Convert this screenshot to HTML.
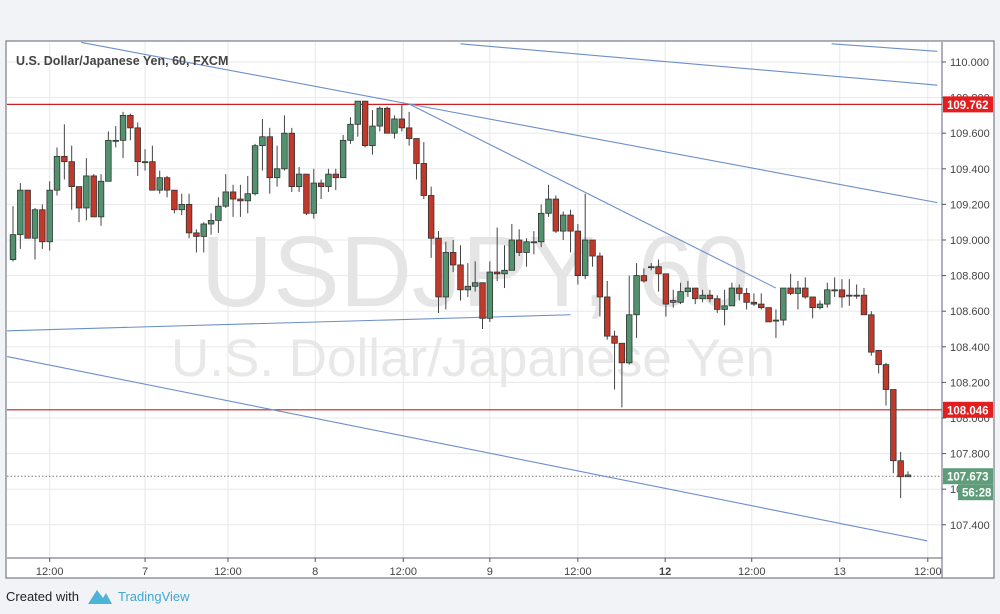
<!DOCTYPE html>
<html><head><meta charset="utf-8"><style>
html,body{margin:0;padding:0;width:1000px;height:614px;overflow:hidden;background:#f1f3f6;font-family:"Liberation Sans",sans-serif}
</style></head><body>
<svg id="c" width="1000" height="614" xmlns="http://www.w3.org/2000/svg"></svg>
<script>
const opens=[108.89,109.03,109.28,109.01,109.17,108.99,109.28,109.47,109.44,109.30,109.18,109.36,109.13,109.33,109.56,109.56,109.70,109.63,109.44,109.44,109.28,109.35,109.28,109.17,109.20,109.04,109.02,109.09,109.11,109.19,109.27,109.23,109.22,109.26,109.53,109.58,109.35,109.40,109.60,109.30,109.37,109.15,109.32,109.30,109.37,109.35,109.56,109.65,109.78,109.53,109.64,109.74,109.60,109.68,109.63,109.57,109.43,109.25,109.01,108.68,108.93,108.86,108.72,108.74,108.76,108.56,108.82,108.81,108.83,109.00,108.93,108.99,108.99,109.15,109.23,109.05,109.14,109.05,108.80,109.00,108.91,108.68,108.46,108.42,108.31,108.58,108.80,108.85,108.85,108.81,108.65,108.65,108.71,108.73,108.67,108.69,108.67,108.61,108.63,108.73,108.70,108.65,108.64,108.62,108.55,108.55,108.73,108.70,108.73,108.68,108.62,108.64,108.72,108.72,108.69,108.69,108.69,108.58,108.38,108.30,108.16,107.76,107.67];
const closes=[109.03,109.28,109.01,109.17,108.99,109.28,109.47,109.44,109.30,109.18,109.36,109.13,109.33,109.56,109.56,109.70,109.63,109.44,109.44,109.28,109.35,109.28,109.17,109.20,109.04,109.02,109.09,109.11,109.19,109.27,109.23,109.22,109.26,109.53,109.58,109.35,109.40,109.60,109.30,109.37,109.15,109.32,109.30,109.37,109.35,109.56,109.65,109.78,109.53,109.64,109.74,109.60,109.68,109.63,109.57,109.43,109.25,109.01,108.68,108.93,108.86,108.72,108.74,108.76,108.56,108.82,108.81,108.83,109.00,108.93,108.99,108.99,109.15,109.23,109.05,109.14,109.05,108.80,109.00,108.91,108.68,108.46,108.42,108.31,108.58,108.80,108.77,108.85,108.81,108.64,108.66,108.71,108.73,108.67,108.69,108.67,108.61,108.63,108.73,108.70,108.65,108.64,108.62,108.54,108.55,108.73,108.70,108.73,108.68,108.62,108.64,108.72,108.72,108.68,108.69,108.69,108.58,108.37,108.30,108.16,107.76,107.67,107.68];
const highs=[109.19,109.32,109.28,109.18,109.20,109.33,109.52,109.65,109.53,109.30,109.46,109.37,109.37,109.61,109.64,109.72,109.71,109.66,109.51,109.53,109.39,109.36,109.28,109.26,109.26,109.06,109.10,109.15,109.24,109.37,109.31,109.31,109.36,109.54,109.68,109.63,109.53,109.70,109.63,109.41,109.37,109.40,109.34,109.40,109.40,109.59,109.69,109.78,109.78,109.73,109.75,109.75,109.70,109.76,109.72,109.57,109.55,109.30,109.05,108.99,109.00,108.97,108.87,108.88,108.76,108.88,109.07,108.97,109.09,109.06,109.01,109.05,109.20,109.31,109.25,109.16,109.17,109.09,109.26,109.00,108.93,108.77,108.49,108.42,108.80,108.87,108.84,108.87,108.89,108.81,108.72,108.76,108.77,108.73,108.72,108.72,108.69,108.72,108.76,108.75,108.73,108.70,108.70,108.62,108.61,108.73,108.81,108.77,108.79,108.68,108.66,108.76,108.79,108.78,108.78,108.75,108.73,108.60,108.38,108.31,108.16,107.81,107.70];
const lows=[108.88,108.95,109.01,108.89,108.95,108.94,109.25,109.34,109.17,109.10,109.11,109.13,109.08,109.33,109.52,109.46,109.56,109.36,109.39,109.28,109.26,109.24,109.15,109.14,109.01,108.93,108.93,109.03,109.04,109.18,109.13,109.13,109.15,109.25,109.39,109.26,109.30,109.39,109.27,109.27,109.14,109.12,109.23,109.27,109.28,109.35,109.54,109.58,109.52,109.48,109.61,109.60,109.57,109.61,109.53,109.34,109.23,108.90,108.59,108.61,108.82,108.66,108.68,108.71,108.50,108.54,108.77,108.73,108.83,108.91,108.85,108.92,108.96,109.13,109.04,109.00,108.93,108.75,108.78,108.85,108.57,108.44,108.16,108.06,108.30,108.45,108.76,108.83,108.71,108.57,108.62,108.64,108.68,108.64,108.65,108.65,108.59,108.52,108.63,108.66,108.61,108.63,108.61,108.54,108.45,108.52,108.69,108.61,108.67,108.56,108.61,108.62,108.68,108.62,108.63,108.67,108.58,108.35,108.25,108.07,107.69,107.55,107.67];
const priceTicks=[107.4,107.6,107.8,108.0,108.2,108.4,108.6,108.8,109.0,109.2,109.4,109.6,109.8,110.0];
const timeTickIdx=[6,19,30.3,42.2,54.2,66,78,89.9,101.7,113.7,125.7];
const timeTickLabels=["12:00","7","12:00","8","12:00","9","12:00","12","12:00","13","12:00"];
const levels=[109.762,108.046];
const lastPrice=107.673;
// trend lines: [idx1, price1, idx2, price2]
const trendLines=[[10.3,110.11,55,109.764],[55,109.764,127,109.21],[55,109.764,105,108.73],[62,110.102,127,109.87],[112.6,110.102,127,110.06],[0.2,108.49,77,108.58],[0.2,108.345,125.6,107.31]];

const S="http://www.w3.org/2000/svg",svg=document.getElementById('c');
const L=7,R=942,T=42,B=558;
const y=p=>62+(110-p)*178;
const x=i=>13+(i-1)*7.336;
function el(t,a,parent){const e=document.createElementNS(S,t);for(const k in a)e.setAttribute(k,a[k]);(parent||svg).appendChild(e);return e;}
let e=el('rect',{x:6,y:41,width:988,height:537,fill:'#fff',stroke:'#5d6570','stroke-width':1});

const grid=el('g',{});
priceTicks.forEach(p=>el('line',{x1:L,x2:R,y1:y(p),y2:y(p),stroke:'#e6e8ec'},grid));
timeTickIdx.forEach(i=>el('line',{x1:x(i),x2:x(i),y1:T,y2:B,stroke:'#e6e8ec'},grid));
e=el('text',{x:475,y:306,'font-size':100,fill:'#e5e5e5','text-anchor':'middle'});e.textContent='USDJPY, 60';

e=el('text',{x:473,y:376,'font-size':53,fill:'#e8e8e8','text-anchor':'middle'});e.textContent='U.S. Dollar/Japanese Yen';

levels.forEach(p=>{const l=el('line',{x1:L,x2:R,y1:y(p),y2:y(p),stroke:'#d11d1d','stroke-width':1.2});
});
e=el('line',{x1:L,x2:R,y1:y(lastPrice),y2:y(lastPrice),stroke:'#777','stroke-dasharray':'1.5,2'});

trendLines.forEach(t=>{const l=el('line',{x1:x(t[0]),y1:y(t[1]),x2:x(t[2]),y2:y(t[3]),stroke:'#6b8fc9','stroke-width':1.1});
});
const cg=el('g',{});
opens.forEach((o,k)=>{const c=closes[k],i=k+1,cx=x(i);const up=c>=o;
const g=el('g',{},cg);


el('line',{x1:cx,x2:cx,y1:y(highs[k]),y2:y(lows[k]),stroke:'#444','stroke-width':1},g);
const top=y(Math.max(o,c)),h=Math.max(1,Math.abs(y(o)-y(c)));
el('rect',{x:cx-2.8,y:top,width:5.6,height:h,fill:up?'#53926e':'#c0392b',stroke:'#333','stroke-width':0.8},g);});
e=el('line',{x1:R,x2:R,y1:T,y2:B+20,stroke:'#5d6570'});
e=el('line',{x1:L,x2:R,y1:B,y2:B,stroke:'#5d6570'});
priceTicks.forEach(p=>{if(p<107.35)return;el('line',{x1:R,x2:R+4,y1:y(p),y2:y(p),stroke:'#555'});
const t=el('text',{x:950,y:y(p)+4,'font-size':11,fill:'#444'});t.textContent=p.toFixed(3);
});
timeTickIdx.forEach((i,k)=>{el('line',{x1:x(i),x2:x(i),y1:B,y2:B+4,stroke:'#555'});
const t=el('text',{x:x(i),y:575,'font-size':11,fill:'#444','text-anchor':'middle','font-weight':timeTickLabels[k]==='12'?'bold':'normal'});t.textContent=timeTickLabels[k];
});
function tag(p,txt,col,name,yy,xx){const g=el('g',{});
el('rect',{x:xx,y:yy-8,width:993-xx,height:16,fill:col},g);
const t=el('text',{x:xx+4,y:yy+4.5,'font-size':11.5,fill:'#fff','font-weight':'bold'},g);t.textContent=txt;}
tag(levels[0],levels[0].toFixed(3),'#e41e1e','level-tag-high',y(levels[0]),943);
tag(levels[1],levels[1].toFixed(3),'#e41e1e','level-tag-low',y(levels[1]),943);
tag(lastPrice,lastPrice.toFixed(3),'#5f9d7a','last-price-tag',y(lastPrice),943);
tag(lastPrice,'56:28','#5f9d7a','countdown-tag',y(lastPrice)+16,958);
e=el('text',{x:16,y:65,'font-size':12.5,fill:'#444','font-weight':'bold'});e.textContent='U.S. Dollar/Japanese Yen, 60, FXCM';

e=el('text',{x:6,y:601,'font-size':13,fill:'#222'});e.textContent='Created with';

const lg=el('g',{});
el('path',{d:'M88 604 L97 590 L103 598 L106 593 L112 604 Z',fill:'#4eb3d8'},lg);
e=el('text',{x:118,y:601,'font-size':13,fill:'#3fa6d4'},lg);e.textContent='TradingView';
</script>
</body></html>
